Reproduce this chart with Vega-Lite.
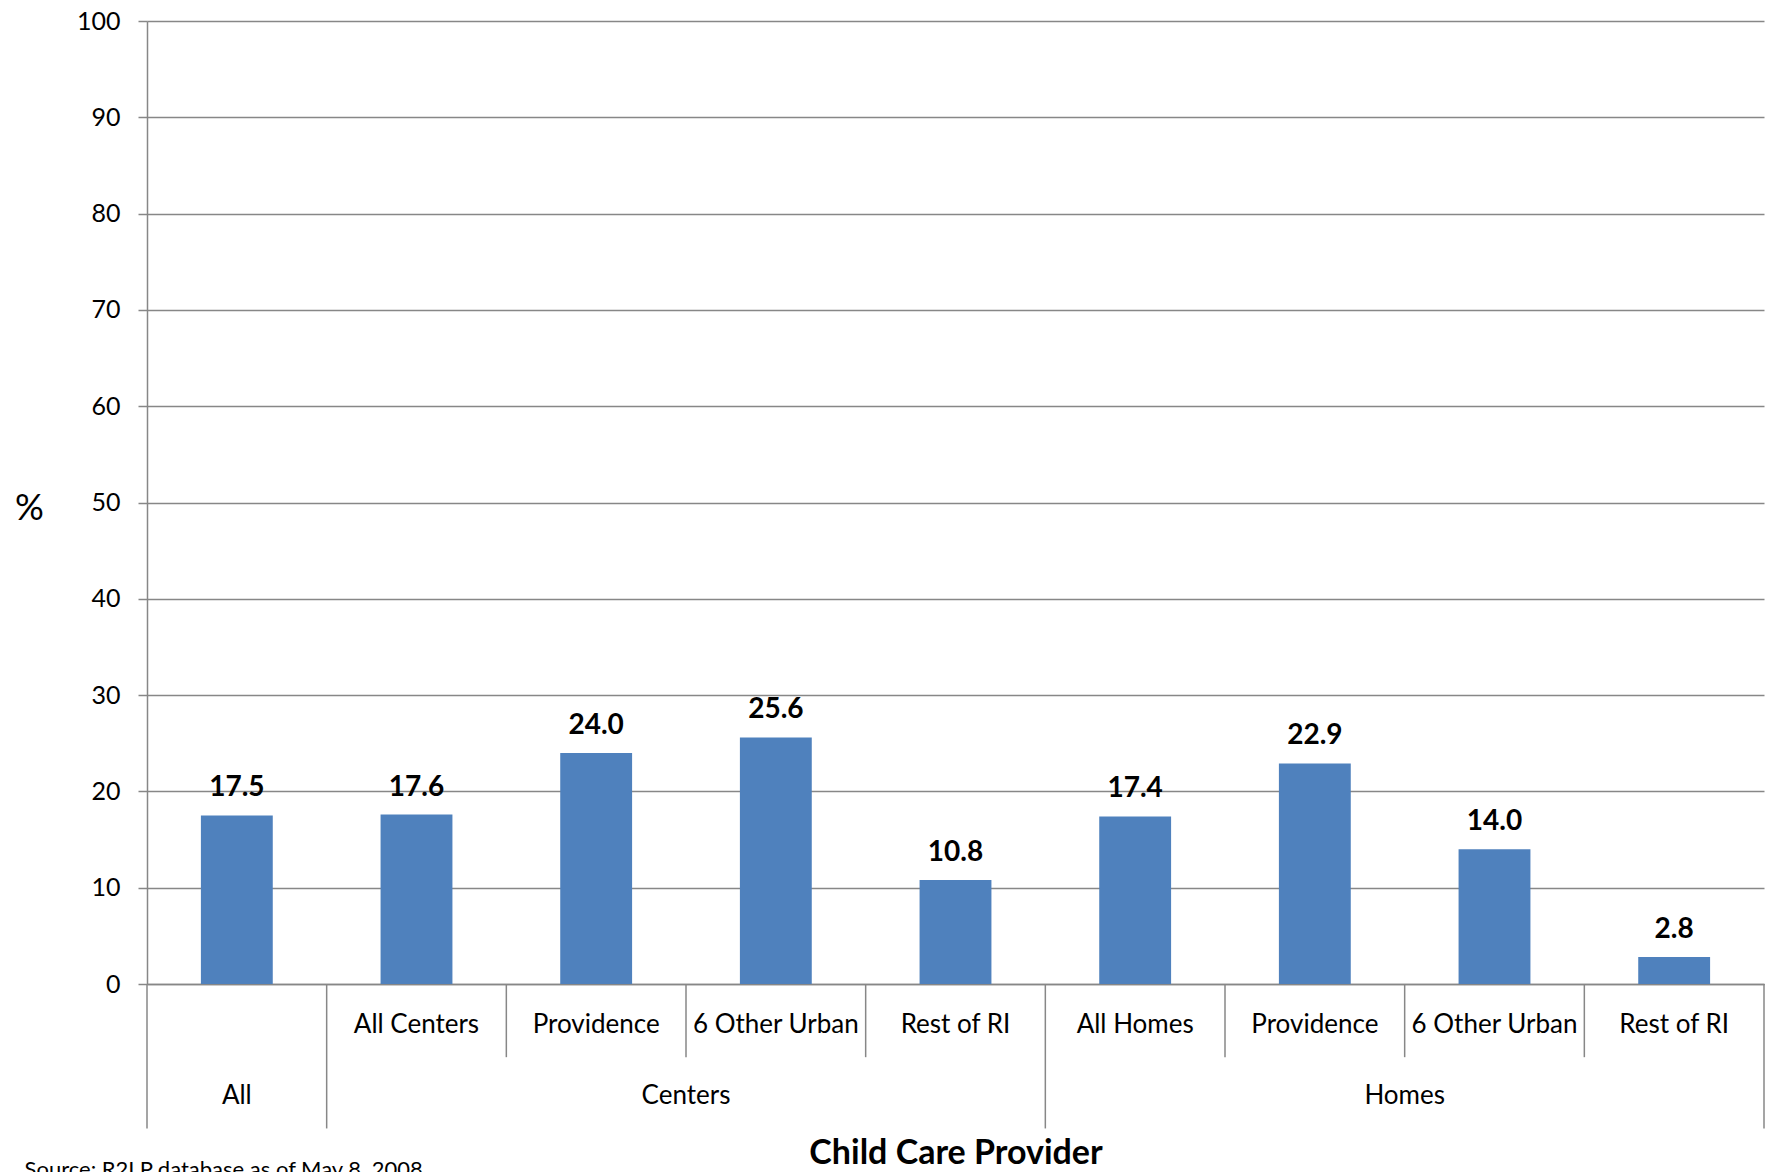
{
  "$schema": "https://vega.github.io/schema/vega-lite/v6.json",
  "width": 1617,
  "height": 963,
  "autosize": {"type": "none"},
  "padding": {"left": 147, "top": 21, "right": 5, "bottom": 188},
  "background": "white",
  "config": {"font": "Lato", "view": {"stroke": null}},
  "title": {
    "text": "Source: R2LP database as of May 8, 2008",
    "orient": "bottom",
    "anchor": "start",
    "frame": "bounds",
    "offset": -10,
    "dx": 10,
    "fontSize": 22,
    "fontWeight": "normal",
    "color": "black"
  },
  "data": {
    "values": [
      {"group": "All", "sub": "", "value": 17.5},
      {"group": "Centers", "sub": "All Centers", "value": 17.6},
      {"group": "Centers", "sub": "Providence", "value": 24.0},
      {"group": "Centers", "sub": "6 Other Urban", "value": 25.6},
      {"group": "Centers", "sub": "Rest of RI", "value": 10.8},
      {"group": "Homes", "sub": "All Homes", "value": 17.4},
      {"group": "Homes", "sub": "Providence", "value": 22.9},
      {"group": "Homes", "sub": "6 Other Urban", "value": 14.0},
      {"group": "Homes", "sub": "Rest of RI", "value": 2.8}
    ]
  },
  "transform": [{"calculate": "datum.group + '|' + datum.sub", "as": "key"}],
  "layer": [
    {
      "mark": {"type": "bar", "color": "#4F81BD"},
      "encoding": {
        "x": {
          "field": "key", "type": "nominal", "sort": null,
          "scale": {"paddingInner": 0.6, "paddingOuter": 0.3},
          "axis": {
            "labelExpr": "split(datum.value, '|')[1]",
            "labelAngle": 0,
            "ticks": false,
            "tickSize": 0,
            "labelPadding": 40,
            "labelBaseline": "middle",
            "labelFontSize": 26,
            "labelColor": "black",
            "domainColor": "#878787",
            "domainWidth": 1.5,
            "title": "Child Care Provider",
            "titleFontSize": 34,
            "titleFontWeight": "bold",
            "titleColor": "black",
            "titleY": 169,
            "titleBaseline": "middle"
          }
        },
        "y": {
          "field": "value", "type": "quantitative",
          "scale": {"domain": [0, 100]},
          "axis": {
            "values": [0, 10, 20, 30, 40, 50, 60, 70, 80, 90, 100],
            "grid": true,
            "gridColor": "#878787",
            "gridWidth": 1.5,
            "domainColor": "#878787",
            "domainWidth": 1.5,
            "tickColor": "#878787",
            "tickWidth": 1.5,
            "tickSize": 9,
            "labelFontSize": 25,
            "labelColor": "black",
            "labelPadding": 18,
            "title": "%",
            "titleAngle": 0,
            "titleFontSize": 36,
            "titleFontWeight": "normal",
            "titleColor": "black",
            "titleX": -118,
            "titleY": 487,
            "titleAlign": "center",
            "titleBaseline": "middle"
          }
        }
      }
    },
    {
      "mark": {"type": "text", "fontSize": 28, "fontWeight": "bold", "color": "black", "baseline": "alphabetic", "dy": -19},
      "encoding": {
        "x": {"field": "key", "type": "nominal", "sort": null},
        "y": {"field": "value", "type": "quantitative", "scale": {"domain": [0, 100]}},
        "text": {"field": "value", "type": "quantitative", "format": ".1f"}
      }
    },
    {
      "transform": [{"filter": "datum.sub == 'Providence' || datum.sub == '6 Other Urban' || datum.sub == 'Rest of RI'"}],
      "mark": {"type": "rule", "color": "#878787", "strokeWidth": 1.5},
      "encoding": {
        "x": {"field": "key", "type": "nominal", "sort": null, "bandPosition": -0.75},
        "y": {"datum": 0, "type": "quantitative", "scale": {"domain": [0, 100]}},
        "y2": {"datum": -7.6}
      }
    },
    {
      "transform": [{"filter": "datum.sub == '' || datum.sub == 'All Centers' || datum.sub == 'All Homes'"}],
      "mark": {"type": "rule", "color": "#878787", "strokeWidth": 1.5},
      "encoding": {
        "x": {"field": "key", "type": "nominal", "sort": null, "bandPosition": -0.75},
        "y": {"datum": 0, "type": "quantitative", "scale": {"domain": [0, 100]}},
        "y2": {"datum": -15}
      }
    },
    {
      "transform": [{"filter": "datum.group == 'Homes' && datum.sub == 'Rest of RI'"}],
      "mark": {"type": "rule", "color": "#878787", "strokeWidth": 1.5},
      "encoding": {
        "x": {"field": "key", "type": "nominal", "sort": null, "bandPosition": 1.75},
        "y": {"datum": 0, "type": "quantitative", "scale": {"domain": [0, 100]}},
        "y2": {"datum": -15}
      }
    },
    {
      "transform": [{"filter": "datum.sub == ''"}],
      "mark": {"type": "text", "fontSize": 26, "color": "black", "baseline": "middle"},
      "encoding": {
        "x": {"field": "key", "type": "nominal", "sort": null, "bandPosition": 0.5},
        "y": {"datum": -11.6, "type": "quantitative", "scale": {"domain": [0, 100]}},
        "text": {"field": "group"}
      }
    },
    {
      "transform": [{"filter": "datum.sub == '6 Other Urban'"}],
      "mark": {"type": "text", "fontSize": 26, "color": "black", "baseline": "middle"},
      "encoding": {
        "x": {"field": "key", "type": "nominal", "sort": null, "bandPosition": -0.75},
        "y": {"datum": -11.6, "type": "quantitative", "scale": {"domain": [0, 100]}},
        "text": {"field": "group"}
      }
    }
  ]
}
